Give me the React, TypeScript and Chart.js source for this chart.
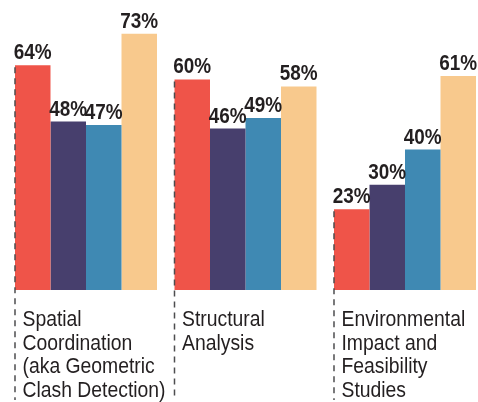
import React, { useEffect, useRef } from 'react';
import { Chart, registerables } from 'chart.js';

Chart.register(...registerables);

const categoryLines: string[][] = [
  ['Spatial', 'Coordination', '(aka Geometric', 'Clash Detection)'],
  ['Structural', 'Analysis'],
  ['Environmental', 'Impact and', 'Feasibility', 'Studies'],
];
const categories = categoryLines.map((l) => l.join(' '));

const seriesRed = [64, 60, 23];
const seriesPurple = [48, 46, 30];
const seriesBlue = [47, 49, 40];
const seriesPeach = [73, 58, 61];

const seriesColors = ['#EF5449', '#473F6D', '#3F89B3', '#F8C98D'];
const seriesNames = ['Series 1', 'Series 2', 'Series 3', 'Series 4'];

const VALUE_FONT = 'bold 22px "Liberation Sans", Arial, sans-serif';
const VALUE_SCALE = 0.86;
const CAT_FONT = '21.5px "Liberation Sans", Arial, sans-serif';
const CAT_SCALE = 0.9;
const TEXT_COLOR = '#231F20';

function scaledText(ctx: CanvasRenderingContext2D, text: string, x: number, y: number, sx: number) {
  ctx.save();
  ctx.translate(x, y);
  ctx.scale(sx, 1);
  ctx.fillText(text, 0, 0);
  ctx.restore();
}

const annotatePlugin = {
  id: 'annotate',
  afterDatasetsDraw(chart: any) {
    const ctx = chart.ctx as CanvasRenderingContext2D;
    const area = chart.chartArea;
    const meta0 = chart.getDatasetMeta(0);

    // dashed guide lines at left of each group
    ctx.save();
    ctx.strokeStyle = '#4d4d4f';
    ctx.lineWidth = 1.5;
    ctx.setLineDash([6, 5]);
    meta0.data.forEach((bar: any) => {
      const p = bar.getProps(['x', 'y', 'width'], true);
      const left = p.x - p.width / 2;
      ctx.beginPath();
      ctx.moveTo(left, p.y + 2);
      ctx.lineTo(left, chart.height - 2);
      ctx.stroke();
    });
    ctx.restore();

    // value labels
    ctx.save();
    ctx.font = VALUE_FONT;
    ctx.fillStyle = TEXT_COLOR;
    ctx.textAlign = 'center';
    ctx.textBaseline = 'alphabetic';
    chart.data.datasets.forEach((ds: any, di: number) => {
      const meta = chart.getDatasetMeta(di);
      meta.data.forEach((bar: any, i: number) => {
        const p = bar.getProps(['x', 'y'], true);
        scaledText(ctx, `${ds.data[i]}%`, p.x, p.y - 6, VALUE_SCALE);
      });
    });
    ctx.restore();

    // category labels
    ctx.save();
    ctx.font = CAT_FONT;
    ctx.fillStyle = TEXT_COLOR;
    ctx.textAlign = 'left';
    ctx.textBaseline = 'alphabetic';
    meta0.data.forEach((bar: any, i: number) => {
      const p = bar.getProps(['x', 'width'], true);
      const left = p.x - p.width / 2 + 7.5;
      categoryLines[i].forEach((line, li) => {
        scaledText(ctx, line, left, area.bottom + 36 + li * 23.5, CAT_SCALE);
      });
    });
    ctx.restore();
  },
};

export default function App() {
  const canvasRef = useRef<HTMLCanvasElement | null>(null);

  useEffect(() => {
    document.body.style.margin = '0';
    const canvas = canvasRef.current;
    if (!canvas) return;
    const allSeries = [seriesRed, seriesPurple, seriesBlue, seriesPeach];
    const chart = new Chart(canvas, {
      type: 'bar',
      data: {
        labels: categories,
        datasets: allSeries.map((d, i) => ({
          label: seriesNames[i],
          data: d,
          backgroundColor: seriesColors[i],
          borderWidth: 0,
          categoryPercentage: 0.8903,
          barPercentage: 1,
        })),
      },
      options: {
        responsive: false,
        animation: false,
        devicePixelRatio: 1,
        layout: { padding: { left: 6.25, right: 1.25, top: 9.2, bottom: 112 } },
        scales: {
          x: { display: false },
          y: { display: false, min: 0, max: 80 },
        },
        plugins: {
          legend: { display: false },
          tooltip: { enabled: false },
        },
      },
      plugins: [annotatePlugin],
    });
    return () => chart.destroy();
  }, []);

  return (
    <div style={{ width: 478, height: 402, overflow: 'hidden', background: '#fff' }}>
      <canvas ref={canvasRef} width={486} height={402} style={{ display: 'block' }} />
    </div>
  );
}
